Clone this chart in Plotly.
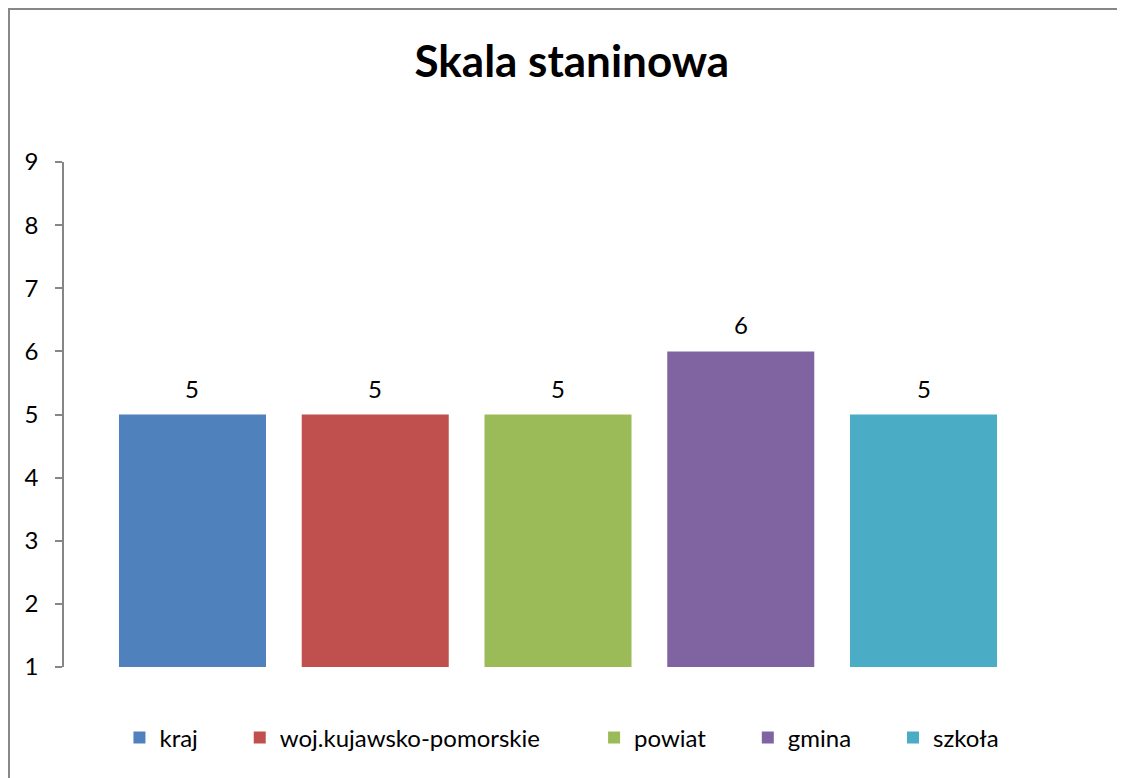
import plotly.graph_objects as go

# Skala staninowa – wynik w skali staninowej dla poszczególnych poziomów
nazwy = ["kraj", "woj.kujawsko-pomorskie", "powiat", "gmina", "szkoła"]
wartosci = [5, 5, 5, 6, 5]
kolory = ["#4F81BD", "#C0504D", "#9BBB59", "#8064A2", "#4BACC6"]
y_ticks = [1, 2, 3, 4, 5, 6, 7, 8, 9]
# odstęp po każdej pozycji legendy (liczba twardych spacji)
odstepy = [6, 8, 6, 6, 0]

FONT = "Lato, Carlito, Calibri, sans-serif"

fig = go.Figure()
for nazwa, wart, kol, n in zip(nazwy, wartosci, kolory, odstepy):
    fig.add_trace(go.Bar(
        x=[nazwa], y=[wart - 1], base=1,
        name=nazwa + "\u00a0" * n,
        marker=dict(color=kol, line=dict(width=0)),
        hovertemplate=f"{nazwa}: {wart}<extra></extra>",
    ))
    fig.add_annotation(
        x=nazwa, y=wart, text=str(wart), showarrow=False,
        yanchor="bottom", yshift=10,
        font=dict(family=FONT, size=24, color="#000000"),
    )

# ramka wykresu (wychodzi poza prawą i dolną krawędź)
fig.add_shape(
    type="rect", xref="paper", yref="paper",
    x0=-0.0557, y0=-0.35, x1=1.2, y1=1.303,
    line=dict(color="#878787", width=2), fillcolor="rgba(0,0,0,0)",
    layer="below",
)

fig.update_layout(
    width=1125, height=778,
    margin=dict(l=56, r=81, t=154, b=119),
    paper_bgcolor="white", plot_bgcolor="white",
    font=dict(family=FONT, size=24, color="#000000"),
    title=dict(
        text="<b>Skala staninowa</b>",
        x=0.514, xref="paper", xanchor="center",
        y=0.9306, yref="container", yanchor="middle",
        font=dict(family=FONT, size=44, color="#000000"),
    ),
    barmode="overlay", bargap=0.1956,
    showlegend=True,
    legend=dict(
        orientation="h", x=0.504, xanchor="center",
        y=-0.1406, yanchor="middle",
        font=dict(family=FONT, size=24),
        traceorder="normal",
    ),
)
fig.update_xaxes(
    type="category", range=[-0.703, 4.703],
    showticklabels=False, showline=False, ticks="", showgrid=False,
    zeroline=False,
)
fig.update_yaxes(
    range=[1, 9], tickvals=y_ticks,
    showline=True, linecolor="#868686", linewidth=1.5,
    ticks="outside", ticklen=7, tickcolor="#868686", tickwidth=1.5,
    ticklabelstandoff=12,
    showgrid=False, zeroline=False,
)

fig.write_html("out.html")
